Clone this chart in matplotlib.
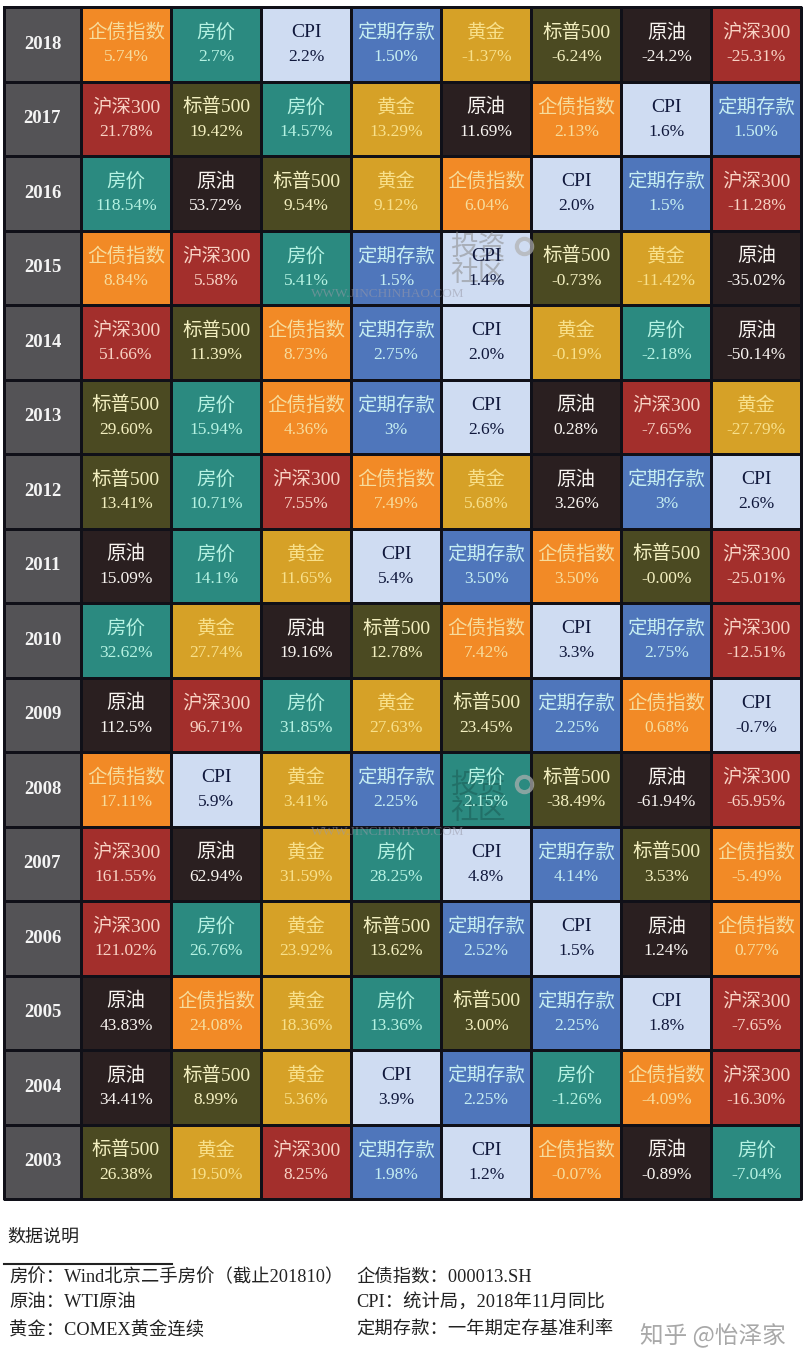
import numpy as np
import matplotlib
matplotlib.use('Agg')
import matplotlib.pyplot as plt
from matplotlib.colors import ListedColormap

plt.rcParams['font.family'] = ['Liberation Serif', 'Noto Sans CJK SC']

years = [2018, 2017, 2016, 2015, 2014, 2013, 2012, 2011, 2010, 2009, 2008, 2007, 2006, 2005, 2004, 2003]

assets = ['企债指数', '房价', 'CPI', '定期存款', '黄金', '标普500', '原油', '沪深300']
cell_colors = ['#f28a26', '#2b8a80', '#cfdcf2', '#4f76bb', '#d6a127', '#4b4a22', '#2a1f20', '#a32f2c']
text_colors = ['#f7dc9c', '#b5f2e2', '#10183c', '#c6eef2', '#f8e08a', '#f3efc0', '#f8f4f0', '#f8d2c4']
year_color = '#545356'

names = [
    ['企债指数', '房价', 'CPI', '定期存款', '黄金', '标普500', '原油', '沪深300'],
    ['沪深300', '标普500', '房价', '黄金', '原油', '企债指数', 'CPI', '定期存款'],
    ['房价', '原油', '标普500', '黄金', '企债指数', 'CPI', '定期存款', '沪深300'],
    ['企债指数', '沪深300', '房价', '定期存款', 'CPI', '标普500', '黄金', '原油'],
    ['沪深300', '标普500', '企债指数', '定期存款', 'CPI', '黄金', '房价', '原油'],
    ['标普500', '房价', '企债指数', '定期存款', 'CPI', '原油', '沪深300', '黄金'],
    ['标普500', '房价', '沪深300', '企债指数', '黄金', '原油', '定期存款', 'CPI'],
    ['原油', '房价', '黄金', 'CPI', '定期存款', '企债指数', '标普500', '沪深300'],
    ['房价', '黄金', '原油', '标普500', '企债指数', 'CPI', '定期存款', '沪深300'],
    ['原油', '沪深300', '房价', '黄金', '标普500', '定期存款', '企债指数', 'CPI'],
    ['企债指数', 'CPI', '黄金', '定期存款', '房价', '标普500', '原油', '沪深300'],
    ['沪深300', '原油', '黄金', '房价', 'CPI', '定期存款', '标普500', '企债指数'],
    ['沪深300', '房价', '黄金', '标普500', '定期存款', 'CPI', '原油', '企债指数'],
    ['原油', '企债指数', '黄金', '房价', '标普500', '定期存款', 'CPI', '沪深300'],
    ['原油', '标普500', '黄金', 'CPI', '定期存款', '房价', '企债指数', '沪深300'],
    ['标普500', '黄金', '沪深300', '定期存款', 'CPI', '企债指数', '原油', '房价'],
]

returns = [
    ['5.74%', '2.7%', '2.2%', '1.50%', '-1.37%', '-6.24%', '-24.2%', '-25.31%'],
    ['21.78%', '19.42%', '14.57%', '13.29%', '11.69%', '2.13%', '1.6%', '1.50%'],
    ['118.54%', '53.72%', '9.54%', '9.12%', '6.04%', '2.0%', '1.5%', '-11.28%'],
    ['8.84%', '5.58%', '5.41%', '1.5%', '1.4%', '-0.73%', '-11.42%', '-35.02%'],
    ['51.66%', '11.39%', '8.73%', '2.75%', '2.0%', '-0.19%', '-2.18%', '-50.14%'],
    ['29.60%', '15.94%', '4.36%', '3%', '2.6%', '0.28%', '-7.65%', '-27.79%'],
    ['13.41%', '10.71%', '7.55%', '7.49%', '5.68%', '3.26%', '3%', '2.6%'],
    ['15.09%', '14.1%', '11.65%', '5.4%', '3.50%', '3.50%', '-0.00%', '-25.01%'],
    ['32.62%', '27.74%', '19.16%', '12.78%', '7.42%', '3.3%', '2.75%', '-12.51%'],
    ['112.5%', '96.71%', '31.85%', '27.63%', '23.45%', '2.25%', '0.68%', '-0.7%'],
    ['17.11%', '5.9%', '3.41%', '2.25%', '2.15%', '-38.49%', '-61.94%', '-65.95%'],
    ['161.55%', '62.94%', '31.59%', '28.25%', '4.8%', '4.14%', '3.53%', '-5.49%'],
    ['121.02%', '26.76%', '23.92%', '13.62%', '2.52%', '1.5%', '1.24%', '0.77%'],
    ['43.83%', '24.08%', '18.36%', '13.36%', '3.00%', '2.25%', '1.8%', '-7.65%'],
    ['34.41%', '8.99%', '5.36%', '3.9%', '2.25%', '-1.26%', '-4.09%', '-16.30%'],
    ['26.38%', '19.50%', '8.25%', '1.98%', '1.2%', '-0.07%', '-0.89%', '-7.04%'],
]

notes_left = ['房价：Wind北京二手房价（截止201810）', '原油：WTI原油', '黄金：COMEX黄金连续']
notes_right = ['企债指数：000013.SH', 'CPI：统计局，2018年11月同比', '定期存款：一年期定存基准利率']

fig = plt.figure(figsize=(8.09, 13.68), dpi=100)
ax = fig.add_axes([0, 0, 1, 1])
ax.set_xlim(0, 809)
ax.set_ylim(1368, 0)
ax.axis('off')

# table geometry in image pixels
left, year_w, cell_w = 4, 77.0, 90.05
top, row_h = 7, 74.5
x_edges = np.r_[left, left + year_w + cell_w * np.arange(9)]
y_edges = top + row_h * np.arange(len(years) + 1)

# colour index per cell: 0 = year column, 1.. = asset
grid = np.zeros((len(years), 9), dtype=int)
for i, row in enumerate(names):
    for j, name in enumerate(row):
        grid[i, j + 1] = assets.index(name) + 1

cmap = ListedColormap([year_color] + cell_colors)
ax.pcolormesh(x_edges, y_edges, grid, cmap=cmap, vmin=-0.5, vmax=len(assets) + 0.5,
              edgecolors='#101018', linewidth=1.0)
ax.plot([left, x_edges[-1], x_edges[-1], left, left],
        [y_edges[0], y_edges[0], y_edges[-1], y_edges[-1], y_edges[0]],
        color='#101018', lw=2.0)

# watermarks sit under the cell text
for wy, wc, wa in [(247, '#8a8a8a', 0.55), (785, '#1c5f58', 0.6)]:
    ax.text(478, wy, '投资', color=wc, alpha=wa, fontsize=20, ha='center', va='center', zorder=2)
    ax.text(478, wy + 27, '社区', color=wc, alpha=wa, fontsize=20, ha='center', va='center', zorder=2)
    ax.plot([524], [wy - 1], 'o', ms=11, mfc='none', mec='#b0b0b0', mew=3, alpha=0.7, zorder=2)
    ax.text(388, wy + 47, 'WWW.JINCHINHAO.COM', color='#9a9aa8', alpha=0.55, fontsize=9.5,
            ha='center', va='center', zorder=2)

for i, year in enumerate(years):
    yc = (y_edges[i] + y_edges[i + 1]) / 2
    ax.text((x_edges[0] + x_edges[1]) / 2, yc, str(year), color='#f4f4f4', fontsize=13.5,
            fontweight='bold', ha='center', va='center', zorder=3)
    for j in range(8):
        xc = (x_edges[j + 1] + x_edges[j + 2]) / 2
        c = text_colors[assets.index(names[i][j])]
        ax.text(xc, yc - 11.5, names[i][j], color=c, fontsize=14, ha='center', va='center', zorder=3)
        ax.text(xc, yc + 13, returns[i][j], color=c, fontsize=12.5, ha='center', va='center', zorder=3)

ax.text(7, 1237, '数据说明', color='#222222', fontsize=13, ha='left', va='center')
ax.plot([4, 172], [1264, 1264], color='#222222', lw=1.5)
for k, y in enumerate([1277, 1303, 1330]):
    ax.text(9, y, notes_left[k], color='#222222', fontsize=13.2, ha='left', va='center')
    ax.text(356, y, notes_right[k], color='#222222', fontsize=13.2, ha='left', va='center')
ax.text(640, 1335, '知乎 @怡泽家', color='#a8a8a8', fontsize=17, ha='left', va='center',
        family=['Noto Sans CJK SC', 'DejaVu Sans'])

fig.savefig('out.png', dpi=100)
